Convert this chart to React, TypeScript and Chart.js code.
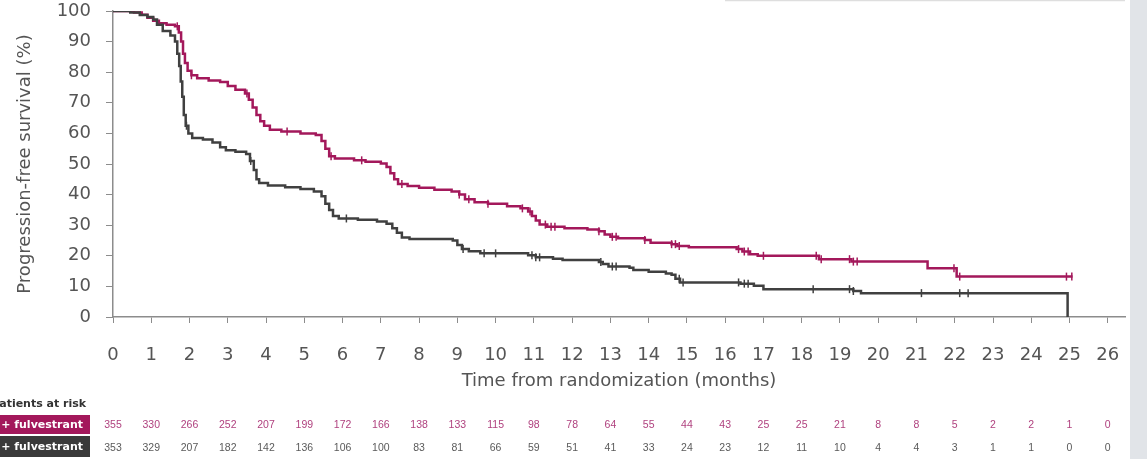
import React, { useEffect, useRef } from "react";
import { Chart, registerables } from "chart.js";

Chart.register(...registerables);
Chart.defaults.font.family = "'DejaVu Sans', sans-serif";

// ---------- data ----------
const MONTH_TICKS = [0, 1, 2, 3, 4, 5, 6, 7, 8, 9, 10, 11, 12, 13, 14, 15, 16, 17, 18, 19, 20, 21, 22, 23, 24, 25, 26];
const PFS_TICKS = [0, 10, 20, 30, 40, 50, 60, 70, 80, 90, 100];

// magenta arm (step curve: time of event, survival after it)
const ARM1_TIME = [0, 0.55, 0.75, 0.9, 1.05, 1.2, 1.4, 1.62, 1.72, 1.78, 1.83, 1.88, 1.95, 2.05, 2.2, 2.5, 2.8, 3.0, 3.2, 3.45, 3.55, 3.65, 3.75, 3.85, 3.95, 4.1, 4.4, 4.9, 5.3, 5.45, 5.55, 5.65, 5.8, 6.3, 6.6, 7.0, 7.15, 7.25, 7.35, 7.45, 7.7, 8.0, 8.4, 8.85, 9.05, 9.2, 9.45, 9.8, 10.3, 10.65, 10.85, 10.95, 11.05, 11.15, 11.35, 11.8, 12.4, 12.7, 12.85, 13.0, 13.2, 13.9, 14.05, 14.6, 14.75, 15.05, 16.3, 16.45, 16.65, 16.85, 18.45, 19.3, 21.29, 22.05, 25.08];
const ARM1_PFS = [100, 99.5, 98.8, 97.8, 96.8, 96, 95.5, 95, 93, 90, 86, 83, 80.5, 79, 78, 77.3, 76.8, 75.5, 74.3, 73, 71, 68.5, 66, 64, 62.5, 61.2, 60.6, 60, 59.5, 57.5, 55, 52.5, 51.8, 51.2, 50.7, 50.2, 49, 47, 45, 43.5, 42.8, 42.2, 41.6, 41, 40, 38.5, 37.5, 37, 36.2, 35.5, 34.5, 33, 31.5, 30.2, 29.5, 29, 28.6, 28, 27, 26.2, 25.7, 25.2, 24.3, 23.8, 23.2, 22.8, 22.2, 21.4, 20.5, 20.0, 18.9, 18.1, 15.9, 13.2, 13.2];

// dark grey arm
const ARM2_TIME = [0, 0.45, 0.7, 0.9, 1.05, 1.15, 1.3, 1.5, 1.62, 1.68, 1.73, 1.77, 1.81, 1.85, 1.9, 1.97, 2.07, 2.35, 2.6, 2.8, 2.95, 3.2, 3.48, 3.58, 3.68, 3.75, 3.82, 4.05, 4.5, 4.9, 5.25, 5.45, 5.55, 5.65, 5.75, 5.9, 6.4, 6.9, 7.15, 7.3, 7.42, 7.55, 7.75, 8.88, 9.0, 9.12, 9.3, 9.6, 10.85, 11.05, 11.5, 11.75, 12.7, 12.8, 12.95, 13.5, 13.6, 14.0, 14.45, 14.6, 14.7, 14.82, 16.4, 16.75, 17.0, 19.35, 19.55, 24.93, 24.95];
const ARM2_PFS = [100, 99.5, 98.7, 98, 97.2, 95.5, 93.5, 92, 90, 86, 82, 77, 72, 66, 62.5, 60, 58.5, 58, 57, 55.5, 54.5, 54, 53.3, 51, 48, 45, 43.8, 43, 42.4, 41.8, 41, 39.5, 37, 35, 33, 32.2, 31.8, 31.2, 30.5, 29, 27.5, 26, 25.5, 25, 23.5, 22.2, 21.5, 20.8, 20.2, 19.5, 19, 18.6, 18, 17.3, 16.5, 16.1, 15.4, 14.8, 14.2, 13.8, 12.5, 11.3, 10.9, 10.2, 9.1, 8.5, 7.8, 7.8, 0];

// censoring times
const ARM1_CENSOR = [1.68, 2.05, 3.5, 4.55, 5.7, 6.5, 7.55, 9.05, 9.3, 9.8, 10.7, 10.9, 11.3, 11.45, 11.55, 12.7, 13.05, 13.15, 13.9, 14.6, 14.7, 14.8, 16.35, 16.5, 16.6, 17.0, 18.38, 18.51, 19.25, 19.35, 19.45, 21.98, 22.13, 24.92, 25.06];
const ARM2_CENSOR = [1.92, 3.6, 6.1, 9.15, 9.7, 10.0, 10.95, 11.05, 11.15, 12.75, 13.05, 13.15, 14.8, 14.9, 16.35, 16.5, 16.6, 18.3, 19.25, 19.35, 21.13, 22.13, 22.35];

// patients at risk
const ARM1_AT_RISK = [355, 330, 266, 252, 207, 199, 172, 166, 138, 133, 115, 98, 78, 64, 55, 44, 43, 25, 25, 21, 8, 8, 5, 2, 2, 1, 0];
const ARM2_AT_RISK = [353, 329, 207, 182, 142, 136, 106, 100, 83, 81, 66, 59, 51, 41, 33, 24, 23, 12, 11, 10, 4, 4, 3, 1, 1, 0, 0];
const ROW_LABELS = ["+ fulvestrant", "+ fulvestrant"];
const AT_RISK_TITLE = "Patients at risk";

const X_TITLE = "Time from randomization (months)";
const Y_TITLE = "Progression-free survival (%)";

// ---------- styles ----------
const MAGENTA = "#a3185b";
const DARK = "#404040";
const AXIS = "#8c8c8c";
const TEXT = "#555555";

function stepValue(times: number[], vals: number[], t: number) {
  let v = vals[0];
  for (let i = 0; i < times.length; i++) if (times[i] <= t) v = vals[i];
  return v;
}

const decor = {
  id: "decor",
  beforeDraw(chart: any) {
    const { ctx, width, height } = chart;
    ctx.save();
    ctx.fillStyle = "#ffffff";
    ctx.fillRect(0, 0, width, height);
    ctx.fillStyle = "#e1e4e8";
    ctx.fillRect(1130, 0, width - 1130, height);
    ctx.strokeStyle = "#dedede";
    ctx.lineWidth = 1.5;
    ctx.beginPath();
    ctx.moveTo(725, 0.5);
    ctx.lineTo(1125, 0.5);
    ctx.stroke();
    ctx.restore();
  },
  afterDraw(chart: any) {
    const { ctx } = chart;
    const xs = chart.scales.x;
    ctx.save();
    // header
    ctx.font = "bold 11px 'DejaVu Sans', sans-serif";
    ctx.fillStyle = "#333333";
    ctx.textBaseline = "middle";
    ctx.textAlign = "left";
    const pW = ctx.measureText("P").width;
    ctx.fillText(AT_RISK_TITLE, -pW - 0.5, 404);
    // row label boxes
    ctx.fillStyle = MAGENTA;
    ctx.fillRect(0, 415, 90, 19);
    ctx.fillStyle = "#3a3a3a";
    ctx.fillRect(0, 436, 90, 21);
    ctx.fillStyle = "#ffffff";
    ctx.textAlign = "right";
    ctx.fillText(ROW_LABELS[0], 83, 425);
    ctx.fillText(ROW_LABELS[1], 83, 447);
    // numbers
    ctx.font = "10.5px 'Liberation Sans', sans-serif";
    ctx.textAlign = "center";
    MONTH_TICKS.forEach((m, i) => {
      const x = xs.getPixelForValue(m);
      ctx.fillStyle = "#b0427f";
      ctx.fillText(String(ARM1_AT_RISK[i]), x, 425);
      ctx.fillStyle = "#5a5a5a";
      ctx.fillText(String(ARM2_AT_RISK[i]), x, 448);
    });
    ctx.restore();
  },
};

export default function App() {
  const ref = useRef<HTMLCanvasElement>(null);
  useEffect(() => {
    if (!ref.current) return;
    const arm1 = ARM1_TIME.map((t, i) => ({ x: t, y: ARM1_PFS[i] }));
    const arm2 = ARM2_TIME.map((t, i) => ({ x: t, y: ARM2_PFS[i] }));
    const c1 = ARM1_CENSOR.map((t) => ({ x: t, y: stepValue(ARM1_TIME, ARM1_PFS, t) }));
    const c2 = ARM2_CENSOR.map((t) => ({ x: t, y: stepValue(ARM2_TIME, ARM2_PFS, t) }));
    const chart = new Chart(ref.current, {
      type: "line",
      data: {
        datasets: [
          { label: "Placebo + fulvestrant", data: arm2, stepped: "before", borderColor: DARK, borderWidth: 2.5, pointRadius: 0, fill: false },
          { label: "Capivasertib + fulvestrant", data: arm1, stepped: "before", borderColor: MAGENTA, borderWidth: 2.5, pointRadius: 0, fill: false },
          { label: "censored 2", data: c2, showLine: false, pointStyle: "line", rotation: 90, pointRadius: 4, pointBorderWidth: 1.5, borderColor: DARK, pointBorderColor: DARK },
          { label: "censored 1", data: c1, showLine: false, pointStyle: "line", rotation: 90, pointRadius: 4, pointBorderWidth: 1.5, borderColor: MAGENTA, pointBorderColor: MAGENTA },
        ],
      } as any,
      options: {
        animation: false,
        responsive: false,
        layout: { padding: { top: 11, right: 22, left: 0, bottom: 0 } },
        plugins: { legend: { display: false }, tooltip: { enabled: false } },
        scales: {
          x: {
            type: "linear",
            min: 0,
            max: 26.45,
            afterBuildTicks: (s: any) => { s.ticks = MONTH_TICKS.map((v) => ({ value: v })); },
            afterFit: (s: any) => { s.height = 142; s.paddingLeft = 0; s.paddingRight = 0; },
            grid: { drawOnChartArea: false, drawTicks: true, tickLength: 6, color: AXIS, lineWidth: 1 },
            border: { color: AXIS, width: 1.5 },
            ticks: { color: TEXT, font: { size: 18 }, padding: 22, maxRotation: 0, autoSkip: false },
            title: { display: true, text: X_TITLE, color: TEXT, font: { size: 18 }, padding: { top: 0, bottom: 67 } },
          },
          y: {
            type: "linear",
            min: 0,
            max: 100,
            afterBuildTicks: (s: any) => { s.ticks = PFS_TICKS.map((v) => ({ value: v })); },
            afterFit: (s: any) => { s.width = 113; s.paddingTop = 0; s.paddingBottom = 0; },
            grid: { drawOnChartArea: false, drawTicks: true, tickLength: 7, color: AXIS, lineWidth: 1 },
            border: { color: AXIS, width: 1.5 },
            ticks: { color: TEXT, font: { size: 18 }, padding: 15 },
            title: { display: true, text: Y_TITLE, color: TEXT, font: { size: 18 }, padding: { top: 15, bottom: 0 } },
          },
        },
      } as any,
      plugins: [decor],
    });
    return () => chart.destroy();
  }, []);
  return (
    <div style={{ position: "fixed", left: 0, top: 0, width: 1147, height: 459, background: "#fff" }}>
      <canvas ref={ref} width={1147} height={459} style={{ display: "block" }} />
    </div>
  );
}
